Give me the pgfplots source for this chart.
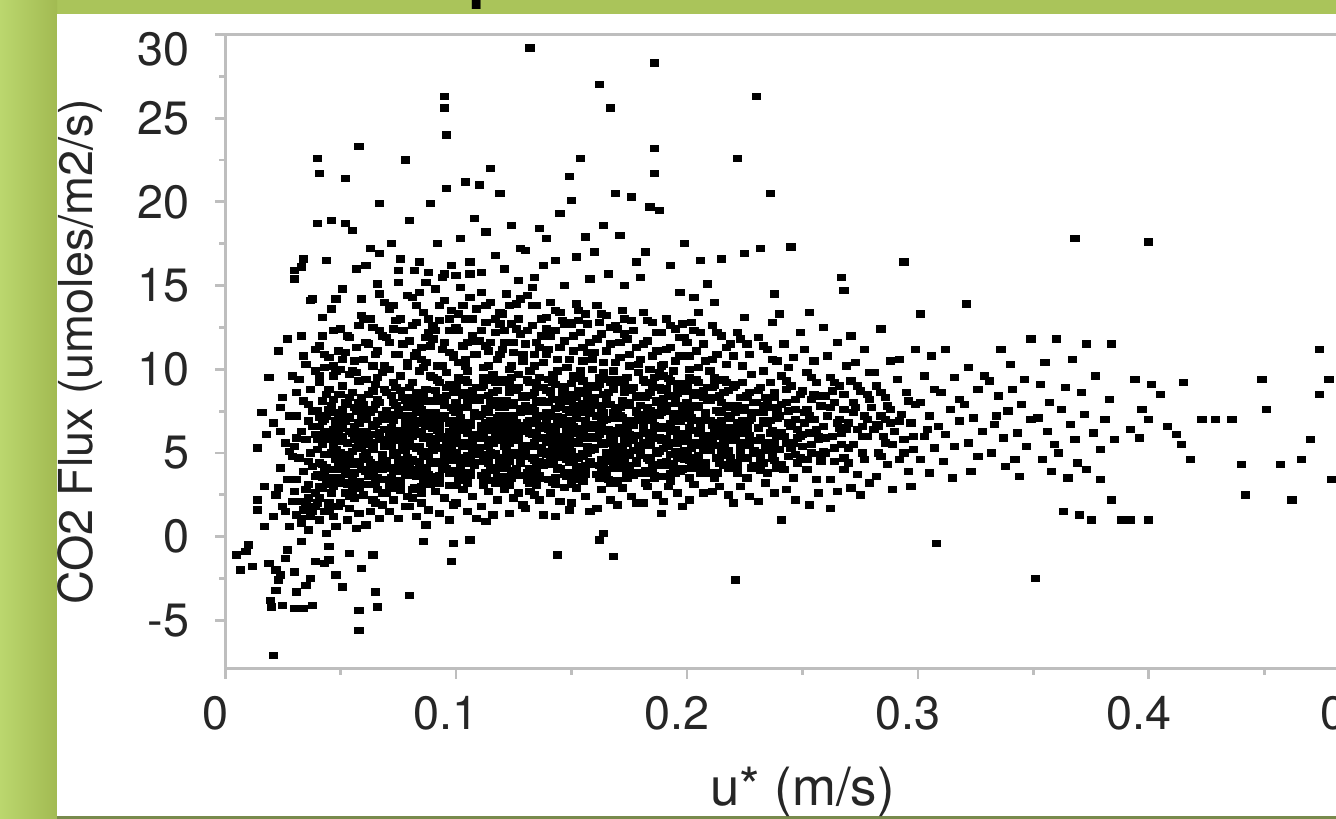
\documentclass[border=0pt]{standalone}
\usepackage{pgfplots}
\pgfplotsset{compat=1.18}
\usepackage{fontspec}
\setmainfont{TeX Gyre Heros}
\definecolor{bandgreen}{HTML}{AAC45A}
\definecolor{edgelight}{HTML}{BBD76E}
\definecolor{edgedark}{HTML}{A2BA52}
\definecolor{olivestrip}{HTML}{788A4C}
\definecolor{spine}{HTML}{BEBEBE}
\pgfplotsset{pts/.style={only marks, mark=square*, mark size=0.85pt, mark options={draw=none, fill=black, xscale=1.3}}}
\begin{document}
\begin{tikzpicture}[x=0.01cm,y=0.01cm]
\path[use as bounding box] (0,0) rectangle (1336,819);
\clip (0,0) rectangle (1336,819);
% slide background and white panel
\fill[bandgreen] (0,0) rectangle (1336,819);
\shade[left color=edgelight, right color=edgedark] (0,0) rectangle (57,819);
\fill[olivestrip] (57,0) rectangle (1336,3);
\fill[white] (57,3) rectangle (1336,805);
\node[anchor=base west, inner sep=0pt, font=\fontsize{30}{36}\selectfont] at (466,832) {p};
\begin{axis}[
  at={(2.25cm,1.5cm)}, anchor=south west,
  scale only axis, width=11.54cm, height=6.34cm,
  xmin=0, xmax=0.5, ymin=-7.9, ymax=30,
  axis line style={spine, line width=0.8pt},
  xtick={0,0.1,0.2,0.3,0.4,0.5},
  ytick={-5,0,5,10,15,20,25,30},
  minor x tick num=1, minor y tick num=1,
  xtick pos=bottom, ytick pos=left,
  tick align=outside,
  major tick length=0.1cm, minor tick length=0.06cm,
  every tick/.style={spine, line width=0.8pt},
  tick label style={font=\fontsize{13.3}{16}\selectfont, text=black!85},
  /pgf/number format/assume math mode=true,
  xticklabel={\ifdim\tick pt>0.45pt\hspace*{-0.34cm}\fi\pgfmathprintnumber{\tick}},
  xticklabel style={/pgf/number format/fixed, /pgf/number format/precision=1, anchor=north, inner sep=0pt, yshift=-0.17cm, xshift=-0.1cm},
  yticklabel={\ifdim\tick pt>29pt\raisebox{-0.15cm}[\height][\depth]{\pgfmathprintnumber{\tick}}\else\pgfmathprintnumber{\tick}\fi},
  yticklabel style={anchor=east, inner sep=0pt, xshift=-0.25cm},
  every axis x label/.style={at={(axis description cs:0.5,-0.194)}, anchor=center, font=\fontsize{15}{18}\selectfont, text=black!85},
  every axis y label/.style={at={(axis description cs:-0.1257,0.5)}, rotate=90, anchor=center, font=\fontsize{13.3}{16}\selectfont, text=black!85},
  xlabel={u* (m/s)},
  ylabel={CO2 Flux (umoles/m2/s)},
]
% low friction velocity, negative fluxes
\addplot[pts] coordinates {
(0.0065,-2.0) (0.005,-1.1) (0.010,-0.5) (0.009,-0.9) (0.012,-1.8) (0.019,-1.6) (0.022,-2.0) (0.024,-2.3)
(0.023,-2.6) (0.022,-3.2) (0.020,-4.2) (0.0195,-3.8) (0.025,-4.1) (0.030,-4.3) (0.0325,-4.3) (0.034,-4.3)
(0.038,-4.1) (0.031,-3.3) (0.035,-2.9) (0.030,-2.1) (0.039,-1.5) (0.043,-1.6) (0.037,-2.5) (0.051,-3.0)
(0.058,-4.4) (0.058,-5.6) (0.021,-7.1) (0.066,-4.2) (0.065,-3.3) (0.064,-1.1) (0.059,-1.9) (0.054,-1.0)
(0.045,-1.4) (0.048,-2.3) (0.086,-0.3) (0.098,-1.5) (0.080,-3.5) (0.099,-0.4) (0.106,-0.2) (0.027,-0.8)
(0.033,-0.3) (0.045,-0.6) (0.026,-1.3) (0.017,0.6) (0.014,1.6) (0.014,2.2) (0.017,3.0) (0.016,7.4)
(0.019,9.5) (0.023,11.1) (0.024,6.3) (0.018,6.1) (0.014,5.3)
};
% 0.02 - 0.04
\addplot[pts] coordinates {
(0.021,1.2) (0.025,1.8) (0.028,0.6) (0.022,2.5) (0.027,3.4) (0.024,4.1) (0.029,4.8) (0.026,5.6)
(0.021,6.8) (0.028,7.2) (0.025,8.3) (0.029,9.6) (0.027,11.8) (0.023,2.9) (0.029,2.1) (0.026,1.5)
(0.028,5.1) (0.024,7.7) (0.030,15.9) (0.034,16.6)
(0.031,1.3) (0.034,1.6) (0.037,1.2) (0.039,1.8) (0.032,2.1) (0.036,2.3) (0.038,1.5) (0.033,0.8)
(0.035,1.9) (0.030,2.7) (0.039,2.6) (0.031,3.4) (0.036,3.1) (0.034,3.9) (0.038,4.2) (0.032,4.7)
(0.037,5.0) (0.030,5.4) (0.035,5.8) (0.039,6.1) (0.033,6.3) (0.036,6.9) (0.031,7.2) (0.038,7.5)
(0.034,8.1) (0.037,8.8) (0.032,9.4) (0.035,10.3) (0.039,11.2) (0.033,12.0) (0.037,14.1) (0.033,16.1)
(0.030,15.4) (0.036,4.5) (0.039,3.6) (0.031,5.9) (0.035,2.8) (0.038,6.6) (0.033,1.1) (0.036,0.4)
(0.039,9.9) (0.034,10.8) (0.031,8.6) (0.036,7.9) (0.038,14.2)
};
% 0.04 - 0.06
\addplot[pts] coordinates {
(0.040,22.6) (0.041,21.7) (0.040,18.7) (0.046,18.9) (0.044,16.5) (0.048,14.2) (0.042,13.1) (0.047,12.3)
(0.041,11.4) (0.045,10.7) (0.049,11.1) (0.043,10.1) (0.047,9.6) (0.041,9.2) (0.045,8.8) (0.049,8.5)
(0.042,8.1) (0.046,7.8) (0.040,7.5) (0.044,7.2) (0.048,6.9) (0.041,6.6) (0.045,6.3) (0.049,6.1)
(0.043,5.8) (0.047,5.5) (0.040,5.2) (0.044,4.9) (0.048,4.6) (0.042,4.3) (0.046,4.0) (0.040,3.7)
(0.044,3.4) (0.049,3.2) (0.042,2.9) (0.046,2.6) (0.041,2.3) (0.045,2.0) (0.049,1.8) (0.043,1.5)
(0.047,1.2) (0.041,1.0) (0.048,0.6) (0.044,0.2) (0.046,5.0) (0.042,6.9) (0.048,7.4) (0.043,3.9)
(0.047,3.0) (0.049,5.8) (0.041,4.4) (0.045,1.6) (0.044,8.5) (0.048,9.9) (0.042,12.0) (0.046,13.6)
(0.040,2.0) (0.047,6.4) (0.043,7.0) (0.049,4.0) (0.045,5.9) (0.041,3.0) (0.048,5.2) (0.043,6.2)
(0.046,3.5) (0.040,6.0) (0.049,7.1) (0.044,4.1) (0.047,8.2) (0.042,5.5)
(0.045,7.6) (0.041,7.15) (0.048,6.7) (0.044,6.25) (0.040,5.8) (0.047,5.35) (0.043,4.9) (0.049,4.45)
(0.046,4.0) (0.042,3.55) (0.045,3.1) (0.043,10.9) (0.047,10.2) (0.041,9.6)
(0.052,21.4) (0.058,23.3) (0.052,18.7) (0.055,18.3) (0.057,16.0) (0.051,14.8) (0.059,13.2) (0.059,14.2)
(0.050,12.4) (0.054,11.9) (0.058,12.6) (0.052,11.0) (0.056,10.5) (0.050,10.0) (0.054,9.7) (0.058,9.3)
(0.051,9.0) (0.055,8.6) (0.059,8.3) (0.052,8.0) (0.056,7.7) (0.050,7.4) (0.054,7.1) (0.058,6.8)
(0.051,6.5) (0.055,6.2) (0.059,5.9) (0.053,5.6) (0.057,5.3) (0.050,5.0) (0.054,4.7) (0.058,4.4)
(0.052,4.1) (0.056,3.8) (0.050,3.5) (0.054,3.2) (0.058,2.9) (0.052,2.6) (0.056,2.3) (0.050,2.0)
(0.054,1.7) (0.058,1.4) (0.053,1.0) (0.057,0.5) (0.051,6.0) (0.055,5.1) (0.059,7.2) (0.053,4.5)
(0.057,3.0) (0.050,8.5) (0.056,6.6) (0.052,3.7) (0.058,5.4) (0.054,8.3) (0.051,4.9) (0.059,4.0)
(0.055,2.7) (0.053,7.9) (0.057,9.8) (0.056,5.8) (0.052,6.9) (0.058,3.3) (0.054,6.3) (0.050,4.2)
(0.051,7.6) (0.055,4.3) (0.059,6.1) (0.053,3.1) (0.057,7.5) (0.050,5.7) (0.054,2.4) (0.058,8.0)
(0.058,7.6) (0.053,7.15) (0.050,6.7) (0.056,6.25) (0.051,5.8) (0.059,5.35) (0.054,4.9) (0.057,4.45)
(0.052,4.0) (0.055,3.55) (0.058,3.1) (0.053,12.0) (0.057,11.3) (0.051,10.6) (0.055,9.9)
};
% 0.06 - 0.08
\addplot[pts] coordinates {
(0.067,19.9) (0.063,17.2) (0.066,15.1) (0.069,14.0) (0.061,16.2) (0.067,16.9) (0.067,14.5)
(0.060,13.0) (0.064,12.5) (0.068,12.0) (0.062,11.5) (0.066,11.1) (0.060,10.6) (0.064,10.2) (0.068,9.8)
(0.061,9.4) (0.065,9.1) (0.069,8.8) (0.062,8.5) (0.066,8.2) (0.060,7.9) (0.064,7.6) (0.068,7.3)
(0.061,7.0) (0.065,6.7) (0.069,6.4) (0.063,6.1) (0.067,5.8) (0.060,5.5) (0.064,5.2) (0.068,4.9)
(0.062,4.6) (0.066,4.3) (0.060,4.0) (0.064,3.7) (0.068,3.4) (0.062,3.1) (0.066,2.8) (0.060,2.5)
(0.064,2.2) (0.068,1.9) (0.063,1.5) (0.067,1.1) (0.061,0.7)
(0.063,5.6) (0.067,4.1) (0.061,6.3) (0.065,7.9) (0.069,5.4) (0.062,3.6) (0.066,6.9) (0.060,4.8)
(0.068,2.6) (0.064,8.7) (0.061,5.0) (0.065,3.2) (0.069,7.0) (0.063,4.4) (0.067,6.2) (0.060,7.2)
(0.066,9.5) (0.062,5.9) (0.068,4.0) (0.064,6.6) (0.065,2.0) (0.061,3.9) (0.067,8.0) (0.063,7.4)
(0.062,7.6) (0.069,7.15) (0.065,6.7) (0.060,6.25) (0.067,5.8) (0.064,5.35) (0.061,4.9) (0.068,4.45)
(0.063,4.0) (0.066,3.55) (0.062,3.1) (0.063,13.0) (0.067,12.3) (0.061,11.6) (0.065,10.9) (0.069,10.2)
(0.078,22.5) (0.072,17.5) (0.075,15.9) (0.079,14.4) (0.071,13.6) (0.076,13.0) (0.073,12.4) (0.070,11.9)
(0.077,11.5) (0.074,10.9) (0.079,10.4) (0.071,10.0) (0.076,9.6) (0.073,9.2) (0.076,16.6) (0.071,13.8) (0.075,15.2)
(0.074,8.9) (0.070,8.6) (0.077,8.3) (0.073,8.0) (0.079,7.7) (0.075,7.4) (0.071,7.1) (0.078,6.8)
(0.072,6.5) (0.076,6.2) (0.074,5.9) (0.070,5.6) (0.077,5.3) (0.073,5.0) (0.079,4.7) (0.075,4.4)
(0.071,4.1) (0.078,3.8) (0.072,3.5) (0.076,3.2) (0.074,2.9) (0.070,2.6)
(0.076,8.75) (0.072,8.45) (0.078,8.15) (0.074,7.85) (0.070,7.55) (0.077,7.25) (0.073,6.95) (0.079,6.65)
(0.075,6.35) (0.071,6.05) (0.076,5.75) (0.072,5.45) (0.078,5.15) (0.074,4.85) (0.070,4.55) (0.077,4.25)
(0.073,3.95) (0.079,3.65) (0.075,3.35) (0.071,3.05) (0.076,2.75)
(0.073,2.2) (0.078,1.8) (0.071,1.5) (0.075,1.1) (0.079,2.4)
(0.071,5.8) (0.077,4.6) (0.073,7.3) (0.079,6.0) (0.075,3.9)
(0.075,7.6) (0.071,7.15) (0.078,6.7) (0.074,6.25) (0.070,5.8) (0.077,5.35) (0.073,4.9) (0.079,4.45)
(0.076,4.0) (0.072,3.55) (0.075,3.1) (0.073,13.8) (0.077,12.3) (0.071,11.6) (0.075,10.9) (0.079,10.2) (0.074,12.9)
};
% 0.08 - 0.10
\addplot[pts] coordinates {
(0.081,14.3) (0.086,13.4) (0.083,12.8) (0.088,12.2) (0.080,11.7) (0.085,11.3) (0.082,10.8) (0.087,10.4)
(0.084,9.9) (0.089,9.6) (0.081,9.2) (0.086,10.1) (0.083,11.0) (0.088,13.0)
(0.089,19.9) (0.080,18.9) (0.084,16.4) (0.087,15.2) (0.082,15.9) (0.088,15.8)
(0.080,8.9) (0.083,8.6) (0.086,8.4) (0.089,8.1) (0.082,7.9) (0.085,7.6) (0.088,7.4) (0.081,7.1)
(0.084,6.9) (0.087,6.6) (0.080,6.4) (0.083,6.1) (0.086,5.9) (0.089,5.6) (0.082,5.4) (0.085,5.1)
(0.088,4.9) (0.081,4.6) (0.084,4.4) (0.087,4.1) (0.080,3.9) (0.083,3.6) (0.086,3.4) (0.089,3.1)
(0.082,2.9) (0.085,2.6)
(0.087,8.8) (0.081,8.3) (0.084,7.8) (0.088,7.1) (0.082,6.7) (0.085,6.3) (0.089,5.8) (0.083,5.3)
(0.086,4.8) (0.080,4.3) (0.084,3.8) (0.087,3.3) (0.081,2.8) (0.088,6.0) (0.082,4.0) (0.086,7.2)
(0.080,5.6) (0.089,4.5) (0.083,7.4) (0.085,3.0) (0.081,6.0) (0.087,5.1) (0.084,8.2) (0.088,3.7)
(0.081,2.3) (0.085,2.0) (0.088,1.6) (0.083,1.2) (0.087,0.7) (0.080,1.8)
(0.088,8.1) (0.083,7.65) (0.080,7.2) (0.086,6.75) (0.081,6.3) (0.089,5.85) (0.084,5.4) (0.087,4.95)
(0.082,4.5) (0.085,4.05) (0.088,3.6) (0.083,13.8) (0.087,11.9) (0.081,12.6) (0.085,10.6) (0.089,11.4) (0.084,14.6)
(0.090,9.5) (0.093,9.2) (0.096,8.9) (0.099,8.6) (0.092,8.3) (0.095,8.0) (0.098,7.7) (0.091,7.4)
(0.094,7.1) (0.097,6.8) (0.090,6.5) (0.093,6.2) (0.096,5.9) (0.099,5.6) (0.092,5.3) (0.095,5.0)
(0.098,4.7) (0.091,4.4) (0.094,4.1) (0.097,3.8) (0.090,3.5) (0.093,3.2)
(0.092,9.35) (0.097,9.05) (0.091,8.75) (0.096,8.45) (0.090,8.15) (0.095,7.85) (0.099,7.55) (0.094,7.25)
(0.098,6.95) (0.093,6.65) (0.092,6.35) (0.097,6.05) (0.091,5.75) (0.096,5.45) (0.090,5.15) (0.095,4.85)
(0.099,4.55) (0.094,4.25) (0.098,3.95) (0.093,3.65) (0.092,3.35) (0.097,3.05)
(0.091,14.8) (0.095,14.1) (0.098,13.5) (0.093,12.9) (0.097,12.3) (0.090,11.8) (0.094,11.2) (0.099,10.7)
(0.092,10.2) (0.096,9.8) (0.090,12.6) (0.097,11.0)
(0.095,26.3) (0.095,25.6) (0.096,24.0) (0.096,20.8) (0.092,17.5) (0.098,16.2) (0.094,15.5) (0.095,15.7)
(0.091,2.7) (0.095,2.3) (0.099,1.9) (0.093,1.4) (0.097,1.0)
(0.094,6.0) (0.098,5.2) (0.091,7.0) (0.095,4.5) (0.099,6.6)
(0.092,8.1) (0.099,7.65) (0.095,7.2) (0.090,6.75) (0.097,6.3) (0.094,5.85) (0.091,5.4) (0.098,4.95)
(0.093,4.5) (0.096,4.05) (0.092,3.6) (0.093,13.8) (0.097,13.0) (0.091,12.3) (0.095,11.6) (0.099,10.9) (0.094,10.2)
};
% 0.10 - 0.12
\addplot[pts] coordinates {
(0.101,9.5) (0.105,9.2) (0.109,8.9) (0.103,8.6) (0.107,8.3) (0.100,8.0) (0.104,7.7) (0.108,7.4)
(0.102,7.1) (0.106,6.8) (0.101,6.5) (0.105,6.2) (0.109,5.9) (0.103,5.6) (0.107,5.3) (0.100,5.0)
(0.104,4.7) (0.108,4.4) (0.102,4.1) (0.106,3.8) (0.101,3.5) (0.105,3.2)
(0.104,9.35) (0.100,9.05) (0.107,8.75) (0.103,8.45) (0.109,8.15) (0.105,7.85) (0.101,7.55) (0.108,7.25)
(0.102,6.95) (0.106,6.65) (0.104,6.35) (0.100,6.05) (0.107,5.75) (0.103,5.45) (0.109,5.15) (0.105,4.85)
(0.101,4.55) (0.108,4.25) (0.102,3.95) (0.106,3.65) (0.104,3.35) (0.100,3.05)
(0.102,14.9) (0.106,14.3) (0.109,13.6) (0.104,13.0) (0.100,12.5) (0.107,12.0) (0.103,11.4) (0.108,10.9)
(0.101,10.4) (0.105,9.9) (0.109,11.7) (0.104,10.6) (0.101,13.3)
(0.104,21.2) (0.108,19.0) (0.102,17.8) (0.106,16.4) (0.100,15.6) (0.106,15.7)
(0.103,2.8) (0.107,2.4) (0.100,2.0) (0.105,1.5) (0.109,1.1)
(0.106,5.4) (0.102,6.8) (0.108,6.1) (0.104,4.4) (0.100,7.4)
(0.105,8.1) (0.101,7.65) (0.108,7.2) (0.104,6.75) (0.100,6.3) (0.107,5.85) (0.103,5.4) (0.109,4.95)
(0.106,4.5) (0.102,4.05) (0.105,3.6) (0.103,13.8) (0.107,13.0) (0.101,12.3) (0.105,11.6) (0.109,10.9) (0.104,10.2)
(0.112,9.5) (0.117,9.2) (0.111,8.9) (0.116,8.6) (0.110,8.3) (0.115,8.0) (0.119,7.7) (0.114,7.4)
(0.118,7.1) (0.113,6.8) (0.112,6.5) (0.117,6.2) (0.111,5.9) (0.116,5.6) (0.110,5.3) (0.115,5.0)
(0.119,4.7) (0.114,4.4) (0.118,4.1) (0.113,3.8) (0.112,3.5) (0.117,3.2)
(0.116,9.35) (0.112,9.05) (0.118,8.75) (0.114,8.45) (0.110,8.15) (0.117,7.85) (0.113,7.55) (0.119,7.25)
(0.115,6.95) (0.111,6.65) (0.116,6.35) (0.112,6.05) (0.118,5.75) (0.114,5.45) (0.110,5.15) (0.117,4.85)
(0.113,4.55) (0.119,4.25) (0.115,3.95) (0.111,3.65) (0.116,3.35) (0.112,3.05)
(0.111,14.6) (0.115,14.0) (0.119,13.4) (0.113,12.8) (0.117,12.2) (0.110,11.7) (0.114,11.1) (0.118,10.6)
(0.112,10.1) (0.116,9.7) (0.119,12.7) (0.113,11.4)
(0.110,21.0) (0.115,22.0) (0.119,20.5) (0.113,18.2) (0.117,16.8) (0.111,15.8)
(0.114,2.7) (0.118,2.2) (0.111,1.8) (0.116,1.3) (0.113,0.9)
(0.115,5.8) (0.111,7.3) (0.119,6.4) (0.113,4.9) (0.117,4.0)
(0.118,8.1) (0.113,7.65) (0.110,7.2) (0.116,6.75) (0.111,6.3) (0.119,5.85) (0.114,5.4) (0.117,4.95)
(0.112,4.5) (0.115,4.05) (0.118,3.6) (0.113,13.8) (0.117,13.0) (0.111,12.3) (0.115,11.6) (0.119,10.9) (0.114,10.2)
};
% 0.12 - 0.14
\addplot[pts] coordinates {
(0.124,9.5) (0.120,9.2) (0.127,8.9) (0.123,8.6) (0.129,8.3) (0.125,8.0) (0.121,7.7) (0.128,7.4)
(0.122,7.1) (0.126,6.8) (0.124,6.5) (0.120,6.2) (0.127,5.9) (0.123,5.6) (0.129,5.3) (0.125,5.0)
(0.121,4.7) (0.128,4.4) (0.122,4.1) (0.126,3.8) (0.124,3.5) (0.120,3.2)
(0.120,9.35) (0.123,9.05) (0.126,8.75) (0.129,8.45) (0.122,8.15) (0.125,7.85) (0.128,7.55) (0.121,7.25)
(0.124,6.95) (0.127,6.65) (0.120,6.35) (0.123,6.05) (0.126,5.75) (0.129,5.45) (0.122,5.15) (0.125,4.85)
(0.128,4.55) (0.121,4.25) (0.124,3.95) (0.127,3.65) (0.120,3.35) (0.123,3.05)
(0.122,14.5) (0.126,13.9) (0.120,13.3) (0.124,12.7) (0.128,12.1) (0.121,11.6) (0.125,11.0) (0.129,10.5)
(0.123,10.0) (0.127,9.7) (0.120,11.2) (0.126,12.4) (0.128,14.2)
(0.124,18.6) (0.128,17.2) (0.121,16.0) (0.127,15.3)
(0.121,2.8) (0.125,2.3) (0.129,1.9) (0.123,1.4) (0.127,2.6)
(0.121,5.5) (0.127,6.3) (0.123,7.2) (0.129,4.8) (0.125,6.0)
(0.122,8.1) (0.129,7.65) (0.125,7.2) (0.120,6.75) (0.127,6.3) (0.124,5.85) (0.121,5.4) (0.128,4.95)
(0.123,4.5) (0.126,4.05) (0.122,3.6) (0.123,13.8) (0.127,13.0) (0.121,12.3) (0.125,11.6) (0.129,10.9) (0.124,10.2)
(0.136,9.5) (0.132,9.2) (0.138,8.9) (0.134,8.6) (0.130,8.3) (0.137,8.0) (0.133,7.7) (0.139,7.4)
(0.135,7.1) (0.131,6.8) (0.136,6.5) (0.132,6.2) (0.138,5.9) (0.134,5.6) (0.130,5.3) (0.137,5.0)
(0.133,4.7) (0.139,4.4) (0.135,4.1) (0.131,3.8) (0.136,3.5) (0.132,3.2)
(0.131,9.35) (0.135,9.05) (0.139,8.75) (0.133,8.45) (0.137,8.15) (0.130,7.85) (0.134,7.55) (0.138,7.25)
(0.132,6.95) (0.136,6.65) (0.131,6.35) (0.135,6.05) (0.139,5.75) (0.133,5.45) (0.137,5.15) (0.130,4.85)
(0.134,4.55) (0.138,4.25) (0.132,3.95) (0.136,3.65) (0.131,3.35) (0.135,3.05)
(0.131,14.4) (0.135,13.8) (0.139,13.1) (0.133,12.6) (0.137,12.0) (0.130,11.5) (0.134,10.9) (0.138,10.4)
(0.132,9.9) (0.136,11.3) (0.139,12.4) (0.133,14.9)
(0.132,29.2) (0.136,18.4) (0.130,17.1) (0.138,16.2) (0.134,15.5)
(0.132,2.7) (0.136,2.2) (0.130,1.7) (0.138,1.3) (0.134,2.5)
(0.133,6.1) (0.137,5.3) (0.131,7.5) (0.139,6.8) (0.135,4.4)
(0.135,8.1) (0.131,7.65) (0.138,7.2) (0.134,6.75) (0.130,6.3) (0.137,5.85) (0.133,5.4) (0.139,4.95)
(0.136,4.5) (0.132,4.05) (0.135,3.6) (0.133,13.8) (0.137,13.0) (0.131,12.3) (0.135,11.6) (0.139,10.9) (0.134,10.2)
};
% 0.14 - 0.16
\addplot[pts] coordinates {
(0.140,9.4) (0.143,9.1) (0.146,8.8) (0.149,8.5) (0.142,8.2) (0.145,7.9) (0.148,7.6) (0.141,7.3)
(0.144,7.0) (0.147,6.7) (0.140,6.4) (0.143,6.1) (0.146,5.8) (0.149,5.5) (0.142,5.2) (0.145,4.9)
(0.148,4.6) (0.141,4.3) (0.144,4.0) (0.147,3.7) (0.140,3.4) (0.143,3.1)
(0.142,9.25) (0.147,8.95) (0.141,8.65) (0.146,8.35) (0.140,8.05) (0.145,7.75) (0.149,7.45) (0.144,7.15)
(0.148,6.85) (0.143,6.55) (0.142,6.25) (0.147,5.95) (0.141,5.65) (0.146,5.35) (0.140,5.05) (0.145,4.75)
(0.149,4.45) (0.144,4.15) (0.148,3.85) (0.143,3.55) (0.142,3.25) (0.147,2.95)
(0.141,14.0) (0.145,13.4) (0.149,12.8) (0.143,12.3) (0.147,11.7) (0.140,11.2) (0.144,10.6) (0.148,10.1)
(0.142,9.7) (0.146,12.9)
(0.145,19.3) (0.139,17.8) (0.149,21.5) (0.143,16.5) (0.147,15.0)
(0.141,2.6) (0.145,2.1) (0.149,1.6) (0.143,1.2) (0.144,-1.1)
(0.144,5.6) (0.148,6.3) (0.141,4.8) (0.146,7.1) (0.142,6.0)
(0.148,8.1) (0.143,7.65) (0.140,7.2) (0.146,6.75) (0.141,6.3) (0.149,5.85) (0.144,5.4) (0.147,4.95)
(0.142,4.5) (0.145,4.05) (0.148,3.6) (0.143,13.5) (0.147,12.7) (0.141,12.0) (0.145,11.3) (0.149,10.6) (0.144,9.9)
(0.151,9.6) (0.155,9.3) (0.159,9.0) (0.153,8.7) (0.157,8.4) (0.150,8.1) (0.154,7.8) (0.158,7.5)
(0.152,7.2) (0.156,6.9) (0.151,6.6) (0.155,6.3) (0.159,6.0) (0.153,5.7) (0.157,5.4) (0.150,5.1)
(0.154,4.8) (0.158,4.5) (0.152,4.2) (0.156,3.9) (0.151,3.6) (0.155,3.3)
(0.154,9.45) (0.150,9.15) (0.157,8.85) (0.153,8.55) (0.159,8.25) (0.155,7.95) (0.151,7.65) (0.158,7.35)
(0.152,7.05) (0.156,6.75) (0.154,6.45) (0.150,6.15) (0.157,5.85) (0.153,5.55) (0.159,5.25) (0.155,4.95)
(0.151,4.65) (0.158,4.35) (0.152,4.05) (0.156,3.75) (0.154,3.45) (0.150,3.15)
(0.152,13.9) (0.156,13.3) (0.150,12.7) (0.154,12.2) (0.158,11.6) (0.151,11.1) (0.155,10.5) (0.159,10.0)
(0.153,12.9) (0.157,11.0)
(0.154,22.6) (0.150,20.1) (0.156,17.9) (0.152,16.7) (0.158,15.4)
(0.152,2.9) (0.156,2.4) (0.150,2.0) (0.158,1.5)
(0.153,6.2) (0.157,5.0) (0.151,7.4) (0.159,6.7)
(0.152,8.3) (0.159,7.85) (0.155,7.4) (0.150,6.95) (0.157,6.5) (0.154,6.05) (0.151,5.6) (0.158,5.15)
(0.153,4.7) (0.156,4.25) (0.152,3.8) (0.153,13.5) (0.157,12.7) (0.151,12.0) (0.155,11.3) (0.159,10.6) (0.154,9.9)
};
% 0.16 - 0.18
\addplot[pts] coordinates {
(0.162,9.5) (0.167,9.2) (0.161,8.9) (0.166,8.6) (0.160,8.3) (0.165,8.0) (0.169,7.7) (0.164,7.4)
(0.168,7.1) (0.163,6.8) (0.162,6.5) (0.167,6.2) (0.161,5.9) (0.166,5.6) (0.160,5.3) (0.165,5.0)
(0.169,4.7) (0.164,4.4) (0.168,4.1) (0.163,3.8) (0.162,3.5) (0.167,3.2)
(0.166,9.4) (0.162,9.1) (0.168,8.8) (0.164,8.5) (0.160,8.2) (0.167,7.9) (0.163,7.6) (0.169,7.3)
(0.165,7.0) (0.161,6.7) (0.166,6.4) (0.162,6.1) (0.168,5.8) (0.164,5.5) (0.160,5.2) (0.167,4.9)
(0.163,4.6) (0.169,4.3) (0.165,4.0) (0.161,3.7) (0.166,3.4)
(0.161,13.8) (0.165,13.2) (0.169,12.6) (0.163,12.1) (0.167,11.5) (0.160,11.0) (0.164,10.4) (0.168,9.9)
(0.162,12.8)
(0.162,27.0) (0.167,25.6) (0.169,20.5) (0.164,18.6) (0.160,17.0) (0.166,15.7)
(0.163,2.8) (0.167,2.2) (0.161,1.7) (0.168,-1.2) (0.162,-0.2) (0.164,0.2)
(0.164,6.3) (0.168,5.4) (0.161,7.2) (0.165,4.5)
(0.165,8.3) (0.161,7.85) (0.168,7.4) (0.164,6.95) (0.160,6.5) (0.167,6.05) (0.163,5.6) (0.169,5.15)
(0.166,4.7) (0.162,4.25) (0.165,3.8) (0.163,13.3) (0.167,12.5) (0.161,11.8) (0.165,11.1) (0.169,10.4) (0.164,9.8)
(0.174,9.5) (0.170,9.2) (0.177,8.9) (0.173,8.6) (0.179,8.3) (0.175,8.0) (0.171,7.7) (0.178,7.4)
(0.172,7.1) (0.176,6.8) (0.174,6.5) (0.170,6.2) (0.177,5.9) (0.173,5.6) (0.179,5.3) (0.175,5.0)
(0.171,4.7) (0.178,4.4) (0.172,4.1) (0.176,3.8) (0.174,3.5) (0.170,3.2)
(0.170,9.35) (0.173,9.05) (0.176,8.75) (0.179,8.45) (0.172,8.15) (0.175,7.85) (0.178,7.55) (0.171,7.25)
(0.174,6.95) (0.177,6.65) (0.170,6.35) (0.173,6.05) (0.176,5.75) (0.179,5.45) (0.172,5.15) (0.175,4.85)
(0.178,4.55) (0.171,4.25) (0.174,3.95) (0.177,3.65) (0.170,3.35)
(0.172,13.5) (0.176,12.9) (0.170,12.4) (0.174,11.8) (0.178,11.3) (0.171,10.7) (0.175,10.2) (0.179,9.8)
(0.173,12.1)
(0.176,20.3) (0.171,18.0) (0.178,16.4) (0.173,15.0)
(0.172,2.9) (0.176,2.4) (0.170,1.9) (0.178,2.0)
(0.175,6.1) (0.171,5.4) (0.179,7.0) (0.173,4.6)
(0.178,8.3) (0.173,7.85) (0.170,7.4) (0.176,6.95) (0.171,6.5) (0.179,6.05) (0.174,5.6) (0.177,5.15)
(0.172,4.7) (0.175,4.25) (0.178,3.8) (0.173,13.0) (0.177,12.3) (0.171,11.6) (0.175,10.9) (0.179,10.3)
};
% 0.18 - 0.20
\addplot[pts] coordinates {
(0.186,9.5) (0.182,9.2) (0.188,8.9) (0.184,8.6) (0.180,8.3) (0.187,8.0) (0.183,7.7) (0.189,7.4)
(0.185,7.1) (0.181,6.8) (0.186,6.5) (0.182,6.2) (0.188,5.9) (0.184,5.6) (0.180,5.3) (0.187,5.0)
(0.183,4.7) (0.189,4.4) (0.185,4.1) (0.181,3.8) (0.186,3.5) (0.182,3.2)
(0.181,9.35) (0.185,9.05) (0.189,8.75) (0.183,8.45) (0.187,8.15) (0.180,7.85) (0.184,7.55) (0.188,7.25)
(0.182,6.95) (0.186,6.65) (0.181,6.35) (0.185,6.05) (0.189,5.75) (0.183,5.45) (0.187,5.15) (0.180,4.85)
(0.184,4.55) (0.188,4.25) (0.182,3.95) (0.186,3.65)
(0.181,13.4) (0.185,12.8) (0.189,12.2) (0.183,11.7) (0.187,11.1) (0.180,10.6) (0.184,10.0) (0.188,9.8)
(0.186,28.3) (0.186,23.2) (0.186,21.7) (0.184,19.7) (0.188,19.5) (0.182,17.0) (0.180,15.5)
(0.183,3.0) (0.187,2.5) (0.181,2.0) (0.189,1.4)
(0.184,6.0) (0.188,5.1) (0.182,7.3) (0.186,4.3)
(0.182,8.3) (0.189,7.85) (0.185,7.4) (0.180,6.95) (0.187,6.5) (0.184,6.05) (0.181,5.6) (0.188,5.15)
(0.183,4.7) (0.186,4.25) (0.182,3.8) (0.183,12.9) (0.187,12.2) (0.181,11.5) (0.185,10.8) (0.189,10.2)
(0.190,9.6) (0.193,9.3) (0.196,9.0) (0.199,8.7) (0.192,8.4) (0.195,8.1) (0.198,7.8) (0.191,7.5)
(0.194,7.2) (0.197,6.9) (0.190,6.6) (0.193,6.3) (0.196,6.0) (0.199,5.7) (0.192,5.4) (0.195,5.1)
(0.198,4.8) (0.191,4.5) (0.194,4.2) (0.197,3.9) (0.190,3.6) (0.193,3.3)
(0.192,9.45) (0.197,9.15) (0.191,8.85) (0.196,8.55) (0.190,8.25) (0.195,7.95) (0.199,7.65) (0.194,7.35)
(0.198,7.05) (0.193,6.75) (0.192,6.45) (0.197,6.15) (0.191,5.85) (0.196,5.55) (0.190,5.25) (0.195,4.95)
(0.199,4.65) (0.194,4.35) (0.198,4.05) (0.193,3.75)
(0.191,13.0) (0.195,12.4) (0.199,11.9) (0.193,11.3) (0.197,10.8) (0.190,10.3) (0.194,9.9) (0.198,12.7)
(0.199,17.5) (0.193,16.2) (0.197,14.6)
(0.192,3.0) (0.196,2.6) (0.190,2.1) (0.198,1.8)
(0.195,6.4) (0.191,5.6) (0.199,7.2) (0.193,4.9)
(0.195,8.3) (0.191,7.85) (0.198,7.4) (0.194,6.95) (0.190,6.5) (0.197,6.05) (0.193,5.6) (0.199,5.15)
(0.196,4.7) (0.192,4.25) (0.195,3.8) (0.193,12.6) (0.197,11.9) (0.191,11.2) (0.195,10.5)
};
% 0.20 - 0.24
\addplot[pts] coordinates {
(0.201,9.5) (0.205,9.2) (0.209,8.9) (0.203,8.6) (0.207,8.3) (0.200,8.0) (0.204,7.7) (0.208,7.4)
(0.202,7.1) (0.206,6.8) (0.201,6.5) (0.205,6.2) (0.209,5.9) (0.203,5.6) (0.207,5.3) (0.200,5.0)
(0.204,4.7) (0.208,4.4) (0.202,4.1) (0.206,3.8) (0.201,3.5)
(0.204,9.35) (0.200,9.05) (0.207,8.75) (0.203,8.45) (0.209,8.15) (0.205,7.85) (0.201,7.55) (0.208,7.25)
(0.202,6.95) (0.206,6.65) (0.204,6.35) (0.200,6.05) (0.207,5.75) (0.203,5.45) (0.209,5.15) (0.205,4.85)
(0.201,4.55) (0.208,4.25)
(0.202,12.8) (0.206,12.2) (0.200,11.6) (0.204,11.1) (0.208,10.5) (0.201,10.0) (0.205,13.4)
(0.206,16.5) (0.209,15.1) (0.203,14.3)
(0.203,3.1) (0.207,2.6) (0.201,2.2)
(0.206,6.2) (0.202,5.3)
(0.208,8.3) (0.203,7.85) (0.200,7.4) (0.206,6.95) (0.201,6.5) (0.209,6.05) (0.204,5.6) (0.207,5.15)
(0.202,4.7) (0.205,4.25) (0.208,3.8) (0.203,12.3) (0.207,11.5) (0.201,10.8) (0.205,10.1)
(0.212,9.5) (0.217,9.2) (0.211,8.9) (0.216,8.6) (0.210,8.3) (0.215,8.0) (0.219,7.7) (0.214,7.4)
(0.218,7.1) (0.213,6.8) (0.212,6.5) (0.217,6.2) (0.211,5.9) (0.216,5.6) (0.210,5.3) (0.215,5.0)
(0.219,4.7) (0.214,4.4) (0.218,4.1) (0.213,3.8) (0.212,3.5)
(0.216,9.35) (0.212,9.05) (0.218,8.75) (0.214,8.45) (0.210,8.15) (0.217,7.85) (0.213,7.55) (0.219,7.25)
(0.215,6.95) (0.211,6.65) (0.216,6.35) (0.212,6.05) (0.218,5.75) (0.214,5.45) (0.210,5.15) (0.217,4.85)
(0.211,12.6) (0.215,12.0) (0.219,11.5) (0.213,10.9) (0.217,10.3) (0.210,9.9)
(0.215,16.6) (0.212,14.0)
(0.214,3.0) (0.218,2.5) (0.211,2.7)
(0.213,6.0) (0.217,4.3)
(0.212,8.3) (0.219,7.85) (0.215,7.4) (0.210,6.95) (0.217,6.5) (0.214,6.05) (0.211,5.6) (0.218,5.15)
(0.213,4.7) (0.216,4.25) (0.212,3.8) (0.213,12.2) (0.217,11.3) (0.211,10.6)
(0.224,9.2) (0.220,8.9) (0.227,8.6) (0.223,8.3) (0.229,8.0) (0.225,7.7) (0.221,7.4) (0.228,7.1)
(0.222,6.8) (0.226,6.5) (0.224,6.2) (0.220,5.9) (0.227,5.6) (0.223,5.3) (0.229,5.0) (0.225,4.7)
(0.221,4.4) (0.228,4.1) (0.222,3.8) (0.226,3.5)
(0.221,9.05) (0.226,8.45) (0.222,7.85) (0.228,7.25) (0.224,6.65) (0.220,6.05) (0.227,5.45) (0.223,4.85)
(0.229,4.25) (0.225,7.55) (0.221,5.75) (0.227,6.95)
(0.222,12.2) (0.226,11.5) (0.220,10.8) (0.224,10.2) (0.228,9.7) (0.225,13.1)
(0.222,22.6) (0.225,16.9) (0.221,-2.6)
(0.223,3.0) (0.227,2.4) (0.220,2.0)
(0.225,8.3) (0.221,7.85) (0.228,7.4) (0.224,6.95) (0.220,6.5) (0.227,6.05) (0.223,5.6) (0.229,5.15)
(0.226,4.7) (0.222,4.25) (0.223,11.8) (0.227,10.9)
(0.236,9.2) (0.232,8.9) (0.238,8.6) (0.234,8.3) (0.230,8.0) (0.237,7.7) (0.233,7.4) (0.239,7.1)
(0.235,6.8) (0.231,6.5) (0.236,6.2) (0.232,5.9) (0.238,5.6) (0.234,5.3) (0.230,5.0) (0.237,4.7)
(0.233,4.4) (0.239,4.1) (0.235,3.8)
(0.231,8.75) (0.235,8.15) (0.239,7.55) (0.233,6.95) (0.237,6.35) (0.230,5.75) (0.234,5.15) (0.238,4.55)
(0.232,3.95)
(0.231,11.9) (0.235,11.2) (0.239,10.5) (0.233,9.9) (0.237,12.8)
(0.230,26.3) (0.236,20.5) (0.232,17.2) (0.238,14.5)
(0.234,3.2) (0.238,2.6) (0.231,2.1)
(0.238,8.3) (0.233,7.85) (0.230,7.4) (0.236,6.95) (0.231,6.5) (0.239,6.05) (0.234,5.6) (0.237,5.15)
(0.232,4.7) (0.233,11.4) (0.237,10.6)
};
% 0.24 - 0.30
\addplot[pts] coordinates {
(0.241,9.6) (0.245,9.0) (0.249,8.5) (0.243,8.0) (0.247,7.6) (0.240,7.2) (0.244,6.8) (0.248,6.4)
(0.242,6.0) (0.246,5.6) (0.240,5.2) (0.244,4.8) (0.248,4.4) (0.242,4.0) (0.246,3.5) (0.243,8.8)
(0.247,7.0) (0.241,6.2) (0.245,5.3) (0.249,4.7) (0.244,7.5) (0.248,5.9)
(0.242,11.5) (0.246,10.7) (0.249,12.2) (0.244,10.1) (0.245,17.3) (0.240,13.3)
(0.243,2.8) (0.247,2.2) (0.241,1.0)
(0.243,9.3) (0.247,8.2) (0.241,7.9) (0.245,6.6) (0.249,6.0) (0.243,5.6) (0.247,4.9) (0.241,4.3)
(0.252,9.8) (0.256,9.2) (0.250,8.7) (0.254,8.2) (0.258,7.8) (0.251,7.4) (0.255,7.0) (0.259,6.6)
(0.253,6.2) (0.257,5.8) (0.250,5.4) (0.254,5.0) (0.258,4.5) (0.252,4.0) (0.256,3.4) (0.255,8.5)
(0.251,6.8) (0.257,6.0) (0.253,7.2) (0.259,5.1)
(0.251,11.2) (0.255,10.5) (0.259,12.5) (0.253,13.4)
(0.257,2.6) (0.253,1.9)
(0.254,9.5) (0.258,8.4) (0.252,7.6) (0.256,6.4) (0.250,6.1) (0.254,5.5) (0.258,4.9) (0.252,4.6)
(0.262,9.5) (0.266,9.0) (0.260,8.4) (0.264,8.0) (0.268,7.6) (0.261,7.2) (0.265,6.8) (0.269,6.4)
(0.263,6.0) (0.267,5.5) (0.260,5.0) (0.264,4.5) (0.268,4.0) (0.262,3.4) (0.266,7.0) (0.263,8.7)
(0.267,6.2)
(0.261,10.8) (0.265,11.6) (0.269,10.2) (0.267,15.5) (0.268,14.7)
(0.265,2.7) (0.262,1.7)
(0.264,9.2) (0.268,8.5) (0.262,7.7) (0.266,6.5) (0.260,5.9) (0.264,5.3) (0.268,4.7)
(0.271,9.3) (0.275,8.7) (0.279,8.2) (0.273,7.7) (0.277,7.2) (0.270,6.8) (0.274,6.4) (0.278,6.0)
(0.272,5.5) (0.276,5.0) (0.270,4.4) (0.274,3.7) (0.275,2.5) (0.278,7.0) (0.272,8.0) (0.276,6.6)
(0.273,10.4) (0.277,11.2) (0.271,12.0) (0.279,9.8)
(0.271,2.9) (0.279,3.2)
(0.274,9.0) (0.278,8.5) (0.272,7.4) (0.276,6.0) (0.270,5.3) (0.277,4.6)
(0.282,9.0) (0.286,8.3) (0.280,7.7) (0.284,7.2) (0.288,6.8) (0.281,6.4) (0.285,6.0) (0.289,5.5)
(0.283,5.0) (0.287,4.3) (0.282,3.6) (0.286,7.0) (0.284,12.4) (0.288,10.5) (0.281,9.8) (0.289,2.8)
(0.283,6.6) (0.287,7.8)
(0.284,8.6) (0.288,7.6) (0.282,6.7) (0.286,5.6) (0.284,4.8)
(0.291,9.4) (0.295,8.6) (0.299,7.9) (0.293,7.3) (0.297,6.8) (0.290,6.3) (0.294,5.8) (0.298,5.2)
(0.292,4.6) (0.296,3.9) (0.294,16.4) (0.299,11.2) (0.292,10.6) (0.297,3.0)
(0.296,8.1) (0.292,6.9) (0.298,6.0) (0.294,5.0)
};
% 0.30 and above
\addplot[pts] coordinates {
(0.301,13.3) (0.303,9.6) (0.307,8.8) (0.301,8.0) (0.305,7.2) (0.309,6.6) (0.303,6.0) (0.307,5.3)
(0.301,4.6) (0.305,3.8) (0.308,-0.4) (0.306,10.8) (0.304,6.4)
(0.312,11.2) (0.316,9.5) (0.310,8.6) (0.314,7.6) (0.318,6.9) (0.312,6.1) (0.316,5.4) (0.311,4.5)
(0.315,3.5) (0.318,8.2)
(0.321,13.9) (0.322,10.1) (0.326,8.8) (0.320,7.9) (0.324,7.1) (0.328,6.3) (0.322,5.6) (0.326,4.8)
(0.329,9.6) (0.323,3.9)
(0.336,11.2) (0.331,9.3) (0.335,8.4) (0.339,7.5) (0.333,6.7) (0.337,5.9) (0.332,5.0) (0.338,4.2)
(0.334,7.2)
(0.340,10.3) (0.341,8.8) (0.345,7.9) (0.349,7.0) (0.343,6.2) (0.347,5.4) (0.342,4.6) (0.349,11.8)
(0.346,9.4) (0.344,3.6)
(0.351,-2.5) (0.353,9.1) (0.357,8.0) (0.352,7.1) (0.356,6.3) (0.359,5.5) (0.354,4.6) (0.358,3.9)
(0.355,10.4)
(0.360,11.8) (0.367,10.6) (0.362,7.6) (0.368,5.8) (0.364,8.9) (0.366,6.7) (0.361,5.0) (0.369,4.4)
(0.365,3.5) (0.368,17.8) (0.363,1.5)
(0.373,11.5) (0.373,4.0) (0.379,3.4) (0.370,1.3) (0.375,1.0) (0.379,5.2) (0.372,7.3) (0.376,6.2)
(0.371,8.6) (0.377,9.6)
(0.384,11.5) (0.384,2.2) (0.388,1.0) (0.381,7.0) (0.385,5.8) (0.383,8.2)
(0.394,9.4) (0.392,1.0) (0.392,6.4) (0.397,7.6) (0.400,1.0) (0.400,17.6) (0.401,9.1) (0.405,8.5)
(0.400,7.0) (0.412,6.1) (0.414,5.5) (0.418,4.6) (0.423,7.0) (0.429,7.0) (0.436,7.0) (0.440,4.3)
(0.442,2.5) (0.449,9.4) (0.451,7.6) (0.457,4.3) (0.466,4.6) (0.470,5.8) (0.474,8.5) (0.478,9.4)
(0.474,11.2) (0.479,3.4) (0.462,2.2) (0.396,5.9) (0.408,6.6) (0.415,9.2)
};
\end{axis}
\end{tikzpicture}
\end{document}
